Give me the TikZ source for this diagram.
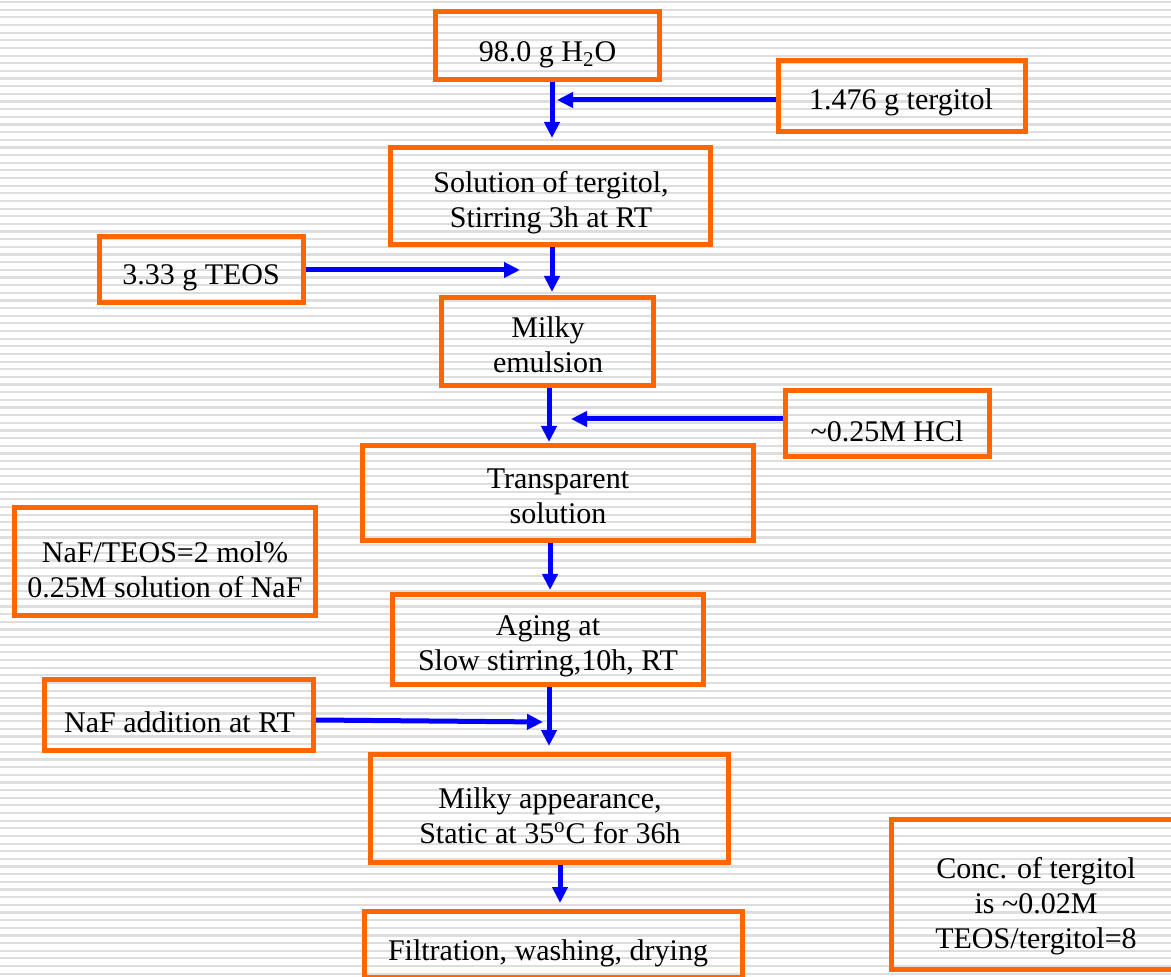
\documentclass[tikz,border=0pt]{standalone}
\usepackage{fontspec}
\setmainfont{Liberation Serif}
\usetikzlibrary{arrows.meta}
\definecolor{boxorange}{RGB}{255,102,0}
\definecolor{arrowblue}{RGB}{0,0,255}
\definecolor{stripegray}{RGB}{222,222,222}
\tikzset{
  flowbox/.style={draw=boxorange, line width=2.5pt, inner sep=0pt, rectangle},
  flowtext/.style={font=\fontsize{15pt}{17.5pt}\selectfont, align=center, inner sep=0pt, anchor=base},
  flowarrow/.style={draw=arrowblue, line width=2.5pt, -{Triangle[length=8pt,width=7.5pt]}},
}
\begin{document}
\begin{tikzpicture}[x=0.5pt,y=-0.5pt]
\useasboundingbox (0,0) rectangle (1171,977);
\fill[white] (0,0) rectangle (1171,977);
\foreach \i in {0,...,127} {
  \fill[stripegray] (0,{1+\i*7.65}) rectangle (1171,{3.2+\i*7.65});
}
% boxes
\node[flowbox, minimum width=112pt, minimum height=34pt] (h2o) at (547.5,45.5) {};
\node[flowbox, minimum width=123.5pt, minimum height=35.5pt] (terg) at (902,96) {};
\node[flowbox, minimum width=160pt, minimum height=48.5pt] (sol) at (550.5,196) {};
\node[flowbox, minimum width=102pt, minimum height=33pt] (teos) at (201.5,269.5) {};
\node[flowbox, minimum width=106pt, minimum height=44pt] (milky) at (547.5,341.5) {};
\node[flowbox, minimum width=102pt, minimum height=33pt] (hcl) at (887.5,423.5) {};
\node[flowbox, minimum width=195.5pt, minimum height=47.5pt] (trans) at (558,493) {};
\node[flowbox, minimum width=150.5pt, minimum height=54pt] (ratio) at (165,561.5) {};
\node[flowbox, minimum width=155.5pt, minimum height=45pt] (aging) at (548,639.5) {};
\node[flowbox, minimum width=134.5pt, minimum height=35.5pt] (nafadd) at (179,715) {};
\node[flowbox, minimum width=179pt, minimum height=54pt] (milkyapp) at (549.5,808.5) {};
\node[flowbox, minimum width=189pt, minimum height=33pt] (filt) at (553.5,944.5) {};
\node[flowbox, minimum width=145.5pt, minimum height=75pt] (conc) at (1037,894.5) {};
% texts (anchor=base is the baseline of the last line)
\node[flowtext] (h2o-t) at (547.5,62) {98.0 g H\textsubscript{2}O};
\node[flowtext] (terg-t) at (901,110) {1.476 g tergitol};
\node[flowtext] (sol-t) at (551,227.5) {Solution of tergitol,\\Stirring 3h at RT};
\node[flowtext] (teos-t) at (201,285) {3.33 g TEOS};
\node[flowtext] (milky-t) at (548,373) {Milky\\emulsion};
\node[flowtext] (hcl-t) at (887,442) {\textasciitilde0.25M HCl};
\node[flowtext] (trans-t) at (558,524) {Transparent\\solution};
\node[flowtext] (ratio-t) at (165,597) {NaF/TEOS=2 mol\%\\0.25M solution of NaF};
\node[flowtext] (aging-t) at (548,670) {Aging at\\Slow stirring,10h, RT};
\node[flowtext] (nafadd-t) at (179.5,732) {NaF addition at RT};
\node[flowtext] (milkyapp-t) at (550,843) {Milky appearance,\\Static at 35\textsuperscript{o}C for 36h};
\node[flowtext] (filt-t) at (548,960) {Filtration, washing, drying};
\node[flowtext] (conc-t) at (1036,948) {Conc. of tergitol\\is \textasciitilde0.02M\\TEOS/tergitol=8};
% arrow ends
\coordinate (t1) at (552,138);
\coordinate (t2) at (557,100);
\coordinate (t3) at (552,292);
\coordinate (t4) at (520,270);
\coordinate (t5) at (549,442);
\coordinate (t6) at (571,419);
\coordinate (t7) at (550,590);
\coordinate (t8) at (549,746);
\coordinate (s9) at (316,720);
\coordinate (t9) at (543,722);
\coordinate (t10) at (560,903);
% arrows
\draw[flowarrow] (h2o.south -| t1) -- (t1);
\draw[flowarrow] (terg.west |- t2) -- (t2);
\draw[flowarrow] (sol.south -| t3) -- (t3);
\draw[flowarrow] (teos.east |- t4) -- (t4);
\draw[flowarrow] (milky.south -| t5) -- (t5);
\draw[flowarrow] (hcl.west |- t6) -- (t6);
\draw[flowarrow] (trans.south -| t7) -- (t7);
\draw[flowarrow] (aging.south -| t8) -- (t8);
\draw[flowarrow] (nafadd.east |- s9) -- (t9);
\draw[flowarrow] (milkyapp.south -| t10) -- (t10);
\end{tikzpicture}
\end{document}
